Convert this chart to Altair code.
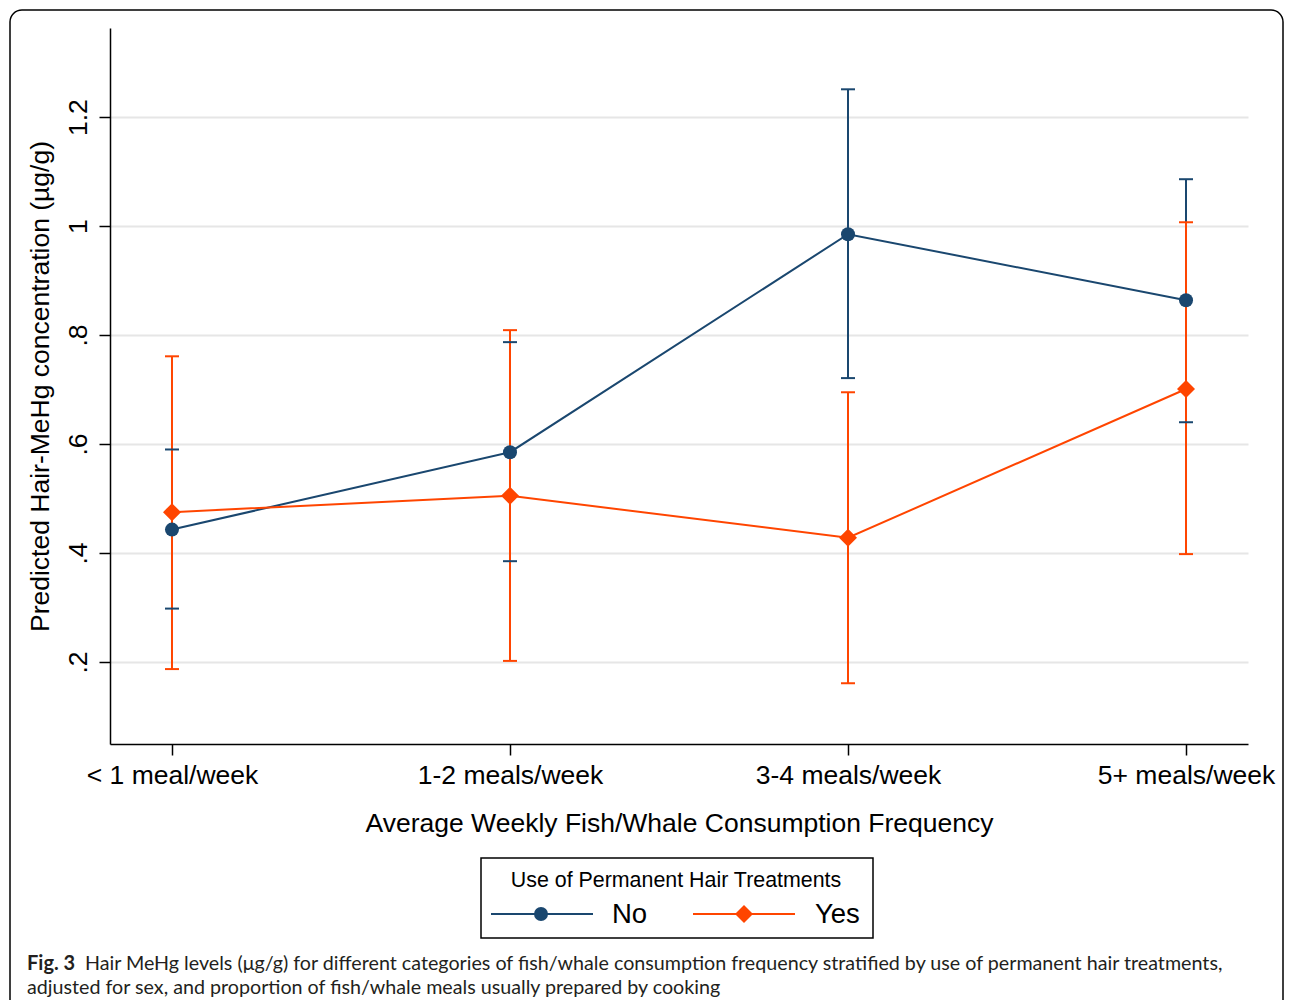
import altair as alt
import pandas as pd

categories = ["< 1 meal/week", "1-2 meals/week", "3-4 meals/week", "5+ meals/week"]
groups = ["No", "Yes"]
no_mean = [0.443, 0.585, 0.985, 0.864]
no_lo = [0.298, 0.385, 0.721, 0.640]
no_hi = [0.590, 0.787, 1.251, 1.086]
yes_mean = [0.475, 0.505, 0.428, 0.701]
yes_lo = [0.187, 0.202, 0.161, 0.398]
yes_hi = [0.761, 0.809, 0.695, 1.007]
y_ticks = [0.2, 0.4, 0.6, 0.8, 1.0, 1.2]

NAVY = "#1a476f"
ORANGE = "#ff4500"
FONT = "Liberation Sans"
FS = 26.5

rows = []
for g, m, lo, hi in [("No", no_mean, no_lo, no_hi), ("Yes", yes_mean, yes_lo, yes_hi)]:
    for c, mv, lv, hv in zip(categories, m, lo, hi):
        rows.append({"cat": c, "grp": g, "mean": mv, "lo": lv, "hi": hv})
df = pd.DataFrame(rows)
caps = pd.concat([
    df[["cat", "grp", "lo"]].rename(columns={"lo": "v"}),
    df[["cat", "grp", "hi"]].rename(columns={"hi": "v"}),
])

W, H = 1138, 716

xs = alt.X("cat:N", sort=categories,
           scale=alt.Scale(type="point", padding=0.1834, domain=categories),
           axis=alt.Axis(title="Average Weekly Fish/Whale Consumption Frequency",
                         labelAngle=0, labelFontSize=FS, titleFontSize=FS,
                         labelLimit=0, labelOverlap=False,
                         tickSize=11, labelPadding=7, titlePadding=22,
                         grid=False, labelColor="black", titleColor="black",
                         titleFontWeight="normal", domainColor="black",
                         tickColor="black", domainWidth=1.5, tickWidth=1.5,
                         labelFont=FONT, titleFont=FONT))
ysc = alt.Scale(domain=[0.0495, 1.3635], nice=False, zero=False)
yaxis = alt.Axis(title="Predicted Hair-MeHg concentration (\u00b5g/g)",
                 values=y_ticks,
                 labelExpr="datum.value < 1 ? '.' + round(datum.value * 10) : format(datum.value, '~g')",
                 labelAngle=270, labelAlign="center", labelBaseline="bottom",
                 labelFontSize=FS, titleFontSize=FS, tickSize=11, labelPadding=7,
                 titlePadding=11, grid=True, gridColor="#e6e6e6", gridWidth=2,
                 labelColor="black", titleColor="black", titleFontWeight="normal",
                 domainColor="black", tickColor="black", domainWidth=1.5,
                 tickWidth=1.5, labelFont=FONT, titleFont=FONT)
color = alt.Color("grp:N", scale=alt.Scale(domain=groups, range=[NAVY, ORANGE]), legend=None)

base = alt.Chart(df)

ci = base.mark_rule(strokeWidth=2).encode(
    x=xs, y=alt.Y("lo:Q", scale=ysc, axis=yaxis), y2="hi:Q", color=color)
cap = alt.Chart(caps).mark_tick(size=14, thickness=2, orient="horizontal", opacity=1).encode(
    x=alt.X("cat:N", sort=categories), y=alt.Y("v:Q"), color=color)
lines = base.mark_line(strokeWidth=2).encode(
    x=alt.X("cat:N", sort=categories), y=alt.Y("mean:Q"), color=color,
    detail="grp:N")
pts_no = base.transform_filter("datum.grp == 'No'").mark_point(
    filled=True, opacity=1, shape="circle", size=196).encode(
    x=alt.X("cat:N", sort=categories), y=alt.Y("mean:Q"), color=color)
pts_yes = base.transform_filter("datum.grp == 'Yes'").mark_point(
    filled=True, opacity=1, shape="diamond", size=324).encode(
    x=alt.X("cat:N", sort=categories), y=alt.Y("mean:Q"), color=color)

one = alt.Chart(pd.DataFrame({"a": [0]}))

frame = one.mark_rect(filled=False, stroke="black", strokeWidth=1.5, cornerRadius=12).encode(
    x=alt.value(-100), x2=alt.value(1173), y=alt.value(-18), y2=alt.value(1010))

# legend (manual)
leg_box = one.mark_rect(filled=False, stroke="black", strokeWidth=1.5).encode(
    x=alt.value(371), x2=alt.value(763), y=alt.value(830), y2=alt.value(910))
leg_title = one.mark_text(text="Use of Permanent Hair Treatments", font=FONT, fontSize=21.4,
                          align="center", baseline="middle", color="black").encode(
    x=alt.value(566), y=alt.value(853))
leg_line_no = one.mark_rule(color=NAVY, strokeWidth=2).encode(
    x=alt.value(381), x2=alt.value(483), y=alt.value(886))
leg_pt_no = one.mark_point(color=NAVY, filled=True, opacity=1, shape="circle", size=196).encode(
    x=alt.value(431), y=alt.value(886))
leg_lab_no = one.mark_text(text="No", font=FONT, fontSize=27.5, align="left",
                           baseline="middle", color="black").encode(
    x=alt.value(502), y=alt.value(887))
leg_line_yes = one.mark_rule(color=ORANGE, strokeWidth=2).encode(
    x=alt.value(583), x2=alt.value(685), y=alt.value(886))
leg_pt_yes = one.mark_point(color=ORANGE, filled=True, opacity=1, shape="diamond", size=324).encode(
    x=alt.value(634), y=alt.value(886))
leg_lab_yes = one.mark_text(text="Yes", font=FONT, fontSize=27.5, align="left",
                            baseline="middle", color="black").encode(
    x=alt.value(705), y=alt.value(887))

CAP_FONT = "Lato"
cap1a = one.mark_text(text="Fig. 3", font=CAP_FONT, fontSize=20, fontWeight="bold",
                      align="left", baseline="alphabetic", color="#231f20").encode(
    x=alt.value(-83), y=alt.value(942))
cap1b = one.mark_text(text="Hair MeHg levels (\u03bcg/g) for different categories of fish/whale consumption frequency stratified by use of permanent hair treatments,",
                      font=CAP_FONT, fontSize=19.7, align="left", baseline="alphabetic",
                      color="#231f20").encode(x=alt.value(-25), y=alt.value(942))
cap2 = one.mark_text(text="adjusted for sex, and proportion of fish/whale meals usually prepared by cooking",
                     font=CAP_FONT, fontSize=19.7, align="left", baseline="alphabetic",
                     color="#231f20").encode(x=alt.value(-83), y=alt.value(966))

chart = alt.layer(
    ci, cap, lines, pts_no, pts_yes,
    frame, leg_box, leg_title, leg_line_no, leg_pt_no, leg_lab_no,
    leg_line_yes, leg_pt_yes, leg_lab_yes, cap1a, cap1b, cap2,
).properties(
    width=W, height=H,
    autosize=alt.AutoSizeParams(type="none"),
    padding={"left": 102, "top": 20, "right": 37, "bottom": 256},
    background="white",
).configure_view(strokeWidth=0)

chart.save("out.html", embed_options={"renderer": "svg", "actions": False})
